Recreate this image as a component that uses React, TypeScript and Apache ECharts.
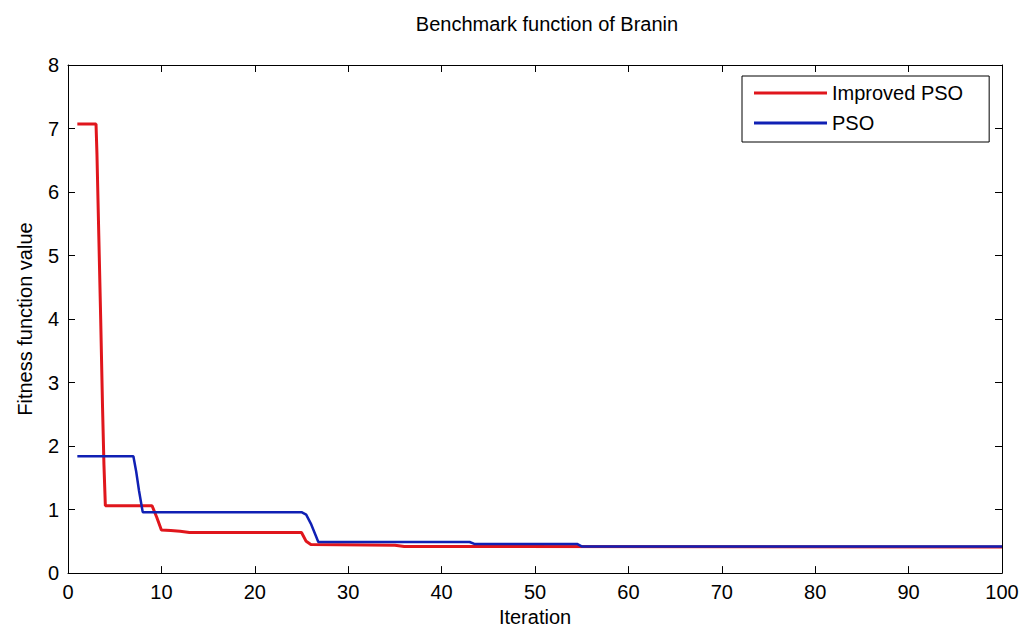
import React, { useEffect, useRef } from "react";
import * as echarts from "echarts";

const chartTitle = "Benchmark function of Branin";
const seriesNames = ["Improved PSO", "PSO"];
const xTickMin = 0;
const xTickMax = 100;
const xTickStep = 10;
const yTickMin = 0;
const yTickMax = 8;
const yTickStep = 1;

const improvedIter = [1, 3, 3.1, 3.3, 3.5, 3.7, 3.85, 4, 9, 9.5, 10, 11, 12, 13, 25, 25.5, 26, 35, 36, 100];
const improvedVal = [7.07, 7.07, 6.6, 5.3, 4.0, 2.6, 1.7, 1.06, 1.06, 0.88, 0.68, 0.67, 0.66, 0.64, 0.64, 0.5, 0.45, 0.44, 0.42, 0.41];

const psoIter = [1, 7, 7.3, 7.6, 8, 25, 25.5, 26, 26.5, 26.8, 43, 43.5, 54.5, 55, 100];
const psoVal = [1.84, 1.84, 1.6, 1.3, 0.96, 0.96, 0.92, 0.78, 0.6, 0.49, 0.49, 0.46, 0.46, 0.42, 0.42];

const FONT = "'Liberation Sans', Arial, Helvetica, sans-serif";

function pairs(xs: number[], ys: number[]) {
  return xs.map((x, i) => [x, ys[i]]);
}

export default function App() {
  const ref = useRef<HTMLDivElement>(null);
  useEffect(() => {
    if (!ref.current) return;
    const chart = echarts.init(ref.current, null, { renderer: "svg" });
    const axisLine = { show: true, onZero: false, lineStyle: { color: "#000", width: 1 } };
    const tick = { show: true, inside: true, length: 7, lineStyle: { color: "#000", width: 1 } };
    chart.setOption({
      animation: false,
      backgroundColor: "#fff",
      title: {
        text: chartTitle,
        left: 542,
        top: 9,
        textAlign: "center",
        textStyle: { fontFamily: FONT, fontSize: 20, fontWeight: "normal", color: "#000" },
      },
      legend: {
        data: seriesNames,
        orient: "vertical",
        left: 742,
        top: 76,
        padding: [6, 26, 8, 12],
        itemGap: 8,
        itemWidth: 73,
        itemHeight: 3,
        icon: "rect",
        backgroundColor: "#fff",
        borderColor: "#000",
        borderWidth: 1,
        borderRadius: 0,
        textStyle: { fontFamily: FONT, fontSize: 20, color: "#000", lineHeight: 22 },
      },
      grid: { left: 68, right: 22, top: 65, bottom: 58, containLabel: false },
      xAxis: [
        {
          type: "value",
          min: xTickMin,
          max: xTickMax,
          interval: xTickStep,
          name: "Iteration",
          nameLocation: "middle",
          nameGap: 33,
          nameTextStyle: { fontFamily: FONT, fontSize: 20, color: "#000" },
          axisLine,
          axisTick: tick,
          axisLabel: { fontFamily: FONT, fontSize: 20, color: "#000", margin: 9 },
          splitLine: { show: false },
        },
        {
          type: "value",
          position: "top",
          min: xTickMin,
          max: xTickMax,
          interval: xTickStep,
          axisLine,
          axisTick: tick,
          axisLabel: { show: false },
          splitLine: { show: false },
        },
      ],
      yAxis: [
        {
          type: "value",
          min: yTickMin,
          max: yTickMax,
          interval: yTickStep,
          name: "Fitness function value",
          nameLocation: "middle",
          nameGap: 33,
          nameTextStyle: { fontFamily: FONT, fontSize: 20, color: "#000" },
          axisLine,
          axisTick: tick,
          axisLabel: { fontFamily: FONT, fontSize: 20, color: "#000", margin: 9 },
          splitLine: { show: false },
        },
        {
          type: "value",
          position: "right",
          min: yTickMin,
          max: yTickMax,
          interval: yTickStep,
          axisLine,
          axisTick: tick,
          axisLabel: { show: false },
          splitLine: { show: false },
        },
      ],
      series: [
        {
          name: seriesNames[0],
          type: "line",
          data: pairs(improvedIter, improvedVal),
          showSymbol: false,
          symbol: "none",
          color: "#e0161c",
          lineStyle: { color: "#e0161c", width: 3 },
        },
        {
          name: seriesNames[1],
          type: "line",
          data: pairs(psoIter, psoVal),
          showSymbol: false,
          symbol: "none",
          color: "#1020b4",
          lineStyle: { color: "#1020b4", width: 2.5 },
        },
      ],
    });
    return () => chart.dispose();
  }, []);
  return (
    <div
      ref={ref}
      style={{ position: "fixed", left: 0, top: 0, width: 1024, height: 632, background: "#fff" }}
    />
  );
}
